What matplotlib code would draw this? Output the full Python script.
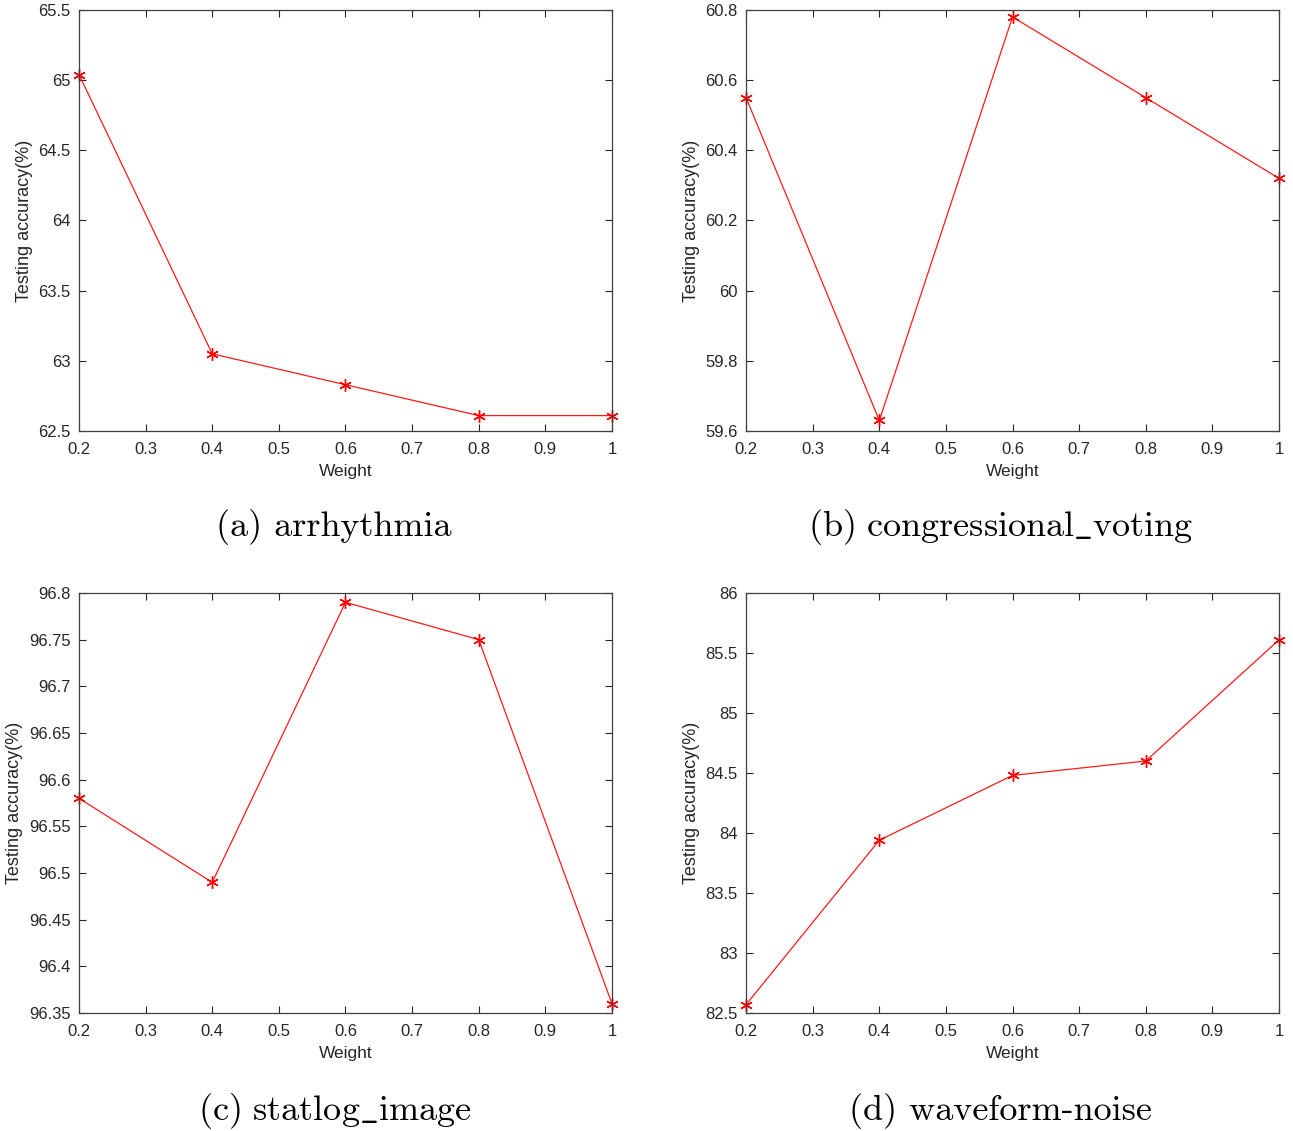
import matplotlib
matplotlib.use("Agg")
import matplotlib.pyplot as plt

weights = [0.2, 0.4, 0.6, 0.8, 1.0]

acc_arrhythmia = [65.04, 63.05, 62.83, 62.61, 62.61]
acc_voting = [60.55, 59.63, 60.78, 60.55, 60.32]
acc_statlog = [96.58, 96.49, 96.79, 96.75, 96.36]
acc_waveform = [82.57, 83.94, 84.48, 84.60, 85.61]

# underscores go through mathtext (cmr10 has no "_" glyph)
captions = [
    "(a) arrhythmia",
    r"$\mathrm{(b)\ congressional\_voting}$",
    r"$\mathrm{(c)\ statlog\_image}$",
    "(d) waveform-noise",
]
ylims = [(62.5, 65.5), (59.6, 60.8), (96.35, 96.8), (82.5, 86)]
yticks = [
    [62.5, 63, 63.5, 64, 64.5, 65, 65.5],
    [59.6, 59.8, 60, 60.2, 60.4, 60.6, 60.8],
    [96.35, 96.4, 96.45, 96.5, 96.55, 96.6, 96.65, 96.7, 96.75, 96.8],
    [82.5, 83, 83.5, 84, 84.5, 85, 85.5, 86],
]
xticks = [0.2, 0.3, 0.4, 0.5, 0.6, 0.7, 0.8, 0.9, 1.0]

plt.rcParams["font.family"] = ["Liberation Sans", "DejaVu Sans"]
plt.rcParams["mathtext.fontset"] = "cm"

fig = plt.figure(figsize=(12.93, 11.31), dpi=100)

# axes boxes in figure fractions: left, bottom, width, height
boxes = [
    [0.0611, 0.6189, 0.4122, 0.3723],
    [0.5770, 0.6189, 0.4122, 0.3723],
    [0.0611, 0.1043, 0.4122, 0.3714],
    [0.5770, 0.1043, 0.4122, 0.3714],
]
cap_pos = [(0.258, 0.534), (0.774, 0.534), (0.259, 0.018), (0.774, 0.018)]
series = [acc_arrhythmia, acc_voting, acc_statlog, acc_waveform]

edge = "#404040"

for i in range(4):
    ax = fig.add_axes(boxes[i])
    ax.plot(weights, series[i], color="#ff1a1a", lw=0.9, marker=(6, 2, 0),
            markersize=9, markeredgewidth=1.0, markeredgecolor="#ff0000",
            clip_on=False)
    ax.set_xlim(0.2, 1.0)
    ax.set_ylim(*ylims[i])
    ax.set_xticks(xticks)
    ax.set_xticklabels(["0.2", "0.3", "0.4", "0.5", "0.6", "0.7", "0.8", "0.9", "1"])
    ax.set_yticks(yticks[i])
    ax.set_yticklabels([("%g" % v) for v in yticks[i]])
    ax.tick_params(direction="in", top=True, right=True, length=5,
                   labelsize=12, colors="#262626", width=0.8)
    ax.tick_params(axis="x", pad=8)
    ax.tick_params(axis="y", pad=6)
    for sp in ax.spines.values():
        sp.set_color(edge)
        sp.set_linewidth(0.9)
    ax.set_xlabel("Weight", fontsize=12.5, color="#262626", labelpad=5)
    ax.set_ylabel("Testing accuracy(%)", fontsize=13, color="#262626", labelpad=4)
    fig.text(cap_pos[i][0], cap_pos[i][1], captions[i], ha="center", va="center",
             fontsize=26, family="cmr10")

fig.savefig("out.png", dpi=100)
